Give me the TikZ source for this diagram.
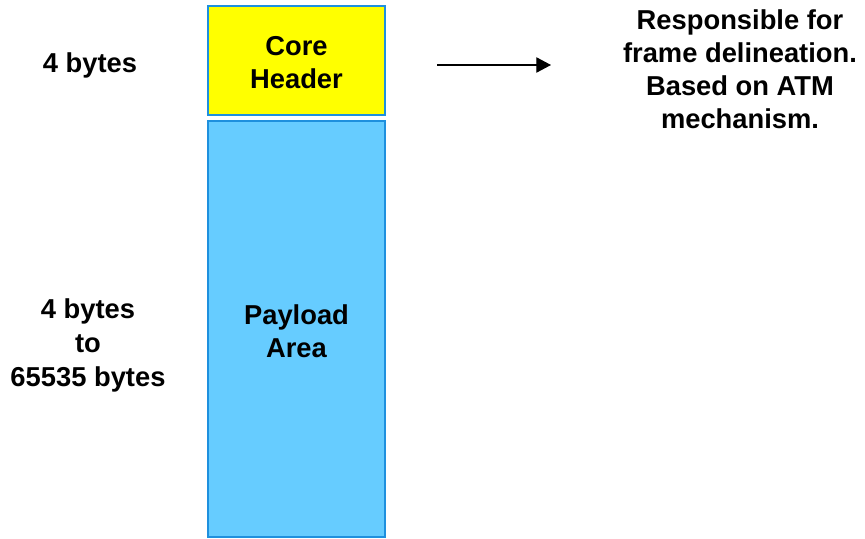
\documentclass[tikz,border=0pt]{standalone}
\usepackage{fontspec}
\setmainfont{Liberation Sans}
\usepackage{xcolor}
\usepackage{tikz}
\usetikzlibrary{arrows.meta, positioning}

\definecolor{frameblue}{RGB}{30,144,222}
\definecolor{headyellow}{RGB}{255,255,0}
\definecolor{payblue}{RGB}{102,204,255}

\begin{document}
\begin{tikzpicture}[
    x=0.75pt, y=-0.75pt,
    % Styles
    field/.style={
        rectangle, draw=frameblue, line width=1.6pt,
        minimum width=133pt, inner sep=0pt,
        font=\bfseries\fontsize{20.5}{24.5}\selectfont, align=center
    },
    sizelbl/.style={
        font=\bfseries\fontsize{20.5}{25.5}\selectfont, align=center
    },
    note/.style={
        font=\bfseries\fontsize{20.5}{24.8}\selectfont, align=center
    },
    arrow/.style={-{Triangle[length=11pt, width=11.5pt]}, line width=0.9pt}
]
\useasboundingbox (0,0) rectangle (865,539);

% === FRAME FIELDS ===
\node (header) [field, fill=headyellow, minimum height=81.5pt] at (296.5, 60.5) {};
\node (headlbl) [field, draw=none] at (296.5, 62.5) {Core\\Header};
\node (payload) [field, fill=payblue, minimum height=311.5pt] at (296.5, 329) {};
\node (paylbl) [field, draw=none] at (296.5, 331) {Payload\\Area};

% === SIZES (left) ===
\node (hsize) [sizelbl] at (90, 65) {4 bytes};
\node (psize) [sizelbl] at (88, 345) {4 bytes\\to\\65535 bytes};

% === DESCRIPTION (right) ===
\node (desc) [note] at (740, 69) {Responsible for\\frame delineation.\\Based on ATM\\mechanism.};

% === ARROW ===
\coordinate (from) at (437, 65);
\coordinate (to) at (551, 65);
\draw [arrow] (from) -- (to);

\end{tikzpicture}
\end{document}
